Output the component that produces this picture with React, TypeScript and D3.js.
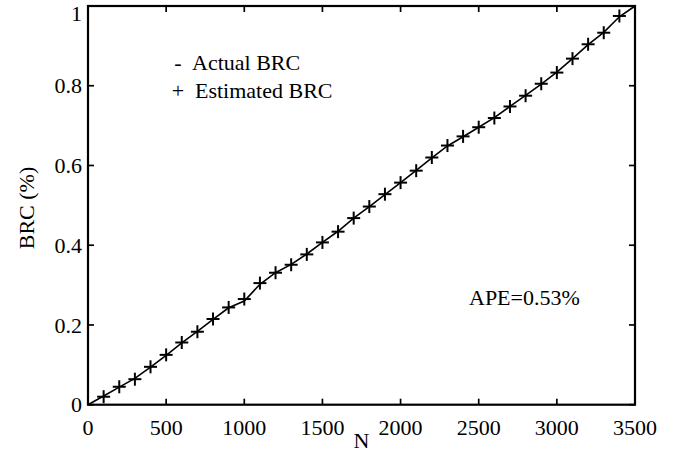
import React from "react";
import * as d3 from "d3";

const estN = [100, 200, 300, 400, 500, 600, 700, 800, 900, 1000, 1100, 1200, 1300, 1400, 1500, 1600, 1700, 1800, 1900, 2000, 2100, 2200, 2300, 2400, 2500, 2600, 2700, 2800, 2900, 3000, 3100, 3200, 3300, 3400];
const estBRC = [0.020, 0.045, 0.064, 0.095, 0.125, 0.156, 0.183, 0.215, 0.244, 0.265, 0.305, 0.331, 0.351, 0.377, 0.407, 0.434, 0.468, 0.497, 0.528, 0.557, 0.587, 0.620, 0.650, 0.673, 0.696, 0.719, 0.748, 0.775, 0.805, 0.833, 0.868, 0.904, 0.933, 0.975];

const actN = [0, 100, 200, 300, 400, 500, 600, 700, 800, 900, 1000, 1100, 1200, 1300, 1400, 1500, 1600, 1700, 1800, 1900, 2000, 2100, 2200, 2300, 2400, 2500, 2600, 2700, 2800, 2900, 3000, 3100, 3200, 3300, 3400, 3500];
const actBRC = [0, 0.022, 0.044, 0.066, 0.094, 0.124, 0.155, 0.184, 0.214, 0.243, 0.260, 0.302, 0.331, 0.352, 0.378, 0.407, 0.435, 0.468, 0.497, 0.527, 0.557, 0.588, 0.619, 0.649, 0.672, 0.696, 0.720, 0.748, 0.776, 0.804, 0.834, 0.868, 0.903, 0.934, 0.973, 1.0];

const xTicks = [0, 500, 1000, 1500, 2000, 2500, 3000, 3500];
const yTicks = [0, 0.2, 0.4, 0.6, 0.8, 1];
const yTickLabels = ["0", "0.2", "0.4", "0.6", "0.8", "1"];

const legendLabels = ["Actual BRC", "Estimated BRC"];
const legendSymbols = ["-", "+"];
const xLabel = "N";
const yLabel = "BRC (%)";
const annotation = "APE=0.53%";

export default function App() {
  const W = 673, H = 453;
  const L = 88, R = 635, T = 6, B = 404.7;
  const x = d3.scaleLinear().domain([0, 3500]).range([L, R]);
  const y = d3.scaleLinear().domain([0, 1]).range([B, T]);
  const line = d3.line<number>().x((_, i) => x(actN[i])).y((d) => y(d));
  const ts: React.CSSProperties = { fontFamily: "'Liberation Serif', 'Times New Roman', Times, serif", fontSize: "22px" };
  const tick = 6;
  const m = 6.5;

  return (
    <div style={{ position: "absolute", left: 0, top: 0 }}>
      <svg width={W} height={H} style={{ display: "block", background: "#fff" }}>
        <rect x={0} y={0} width={W} height={H} fill="#fff" />
        {xTicks.map((t) => (
          <g key={"xt" + t}>
            <line x1={x(t)} x2={x(t)} y1={B} y2={B - tick} stroke="#000" strokeWidth={1.7} />
            <line x1={x(t)} x2={x(t)} y1={T} y2={T + tick} stroke="#000" strokeWidth={1.7} />
            <text x={x(t)} y={435} textAnchor="middle" style={ts} fill="#000">{t}</text>
          </g>
        ))}
        {yTicks.map((t, i) => (
          <g key={"yt" + t}>
            <line x1={L} x2={L + tick} y1={y(t)} y2={y(t)} stroke="#000" strokeWidth={1.7} />
            <line x1={R} x2={R - tick} y1={y(t)} y2={y(t)} stroke="#000" strokeWidth={1.7} />
            <text x={82} y={Math.min(Math.max(y(t), 13), 409)} dy="0.35em" textAnchor="end" style={ts} fill="#000">{yTickLabels[i]}</text>
          </g>
        ))}
        <rect x={L} y={T} width={R - L} height={B - T} fill="none" stroke="#000" strokeWidth={2.2} />
        <path d={line(actBRC) || ""} fill="none" stroke="#000" strokeWidth={1.6} />
        {estBRC.map((v, i) => (
          <g key={"m" + i} stroke="#000" strokeWidth={2}>
            <line x1={x(estN[i]) - m} x2={x(estN[i]) + m} y1={y(v)} y2={y(v)} />
            <line x1={x(estN[i])} x2={x(estN[i])} y1={y(v) - m} y2={y(v) + m} />
          </g>
        ))}
        <text x={178} y={70} textAnchor="middle" style={ts} fill="#000">{legendSymbols[0]}</text>
        <text x={192} y={70} style={ts} fill="#000">{legendLabels[0]}</text>
        <text x={178} y={98} textAnchor="middle" style={ts} fill="#000">{legendSymbols[1]}</text>
        <text x={195} y={98} style={ts} fill="#000">{legendLabels[1]}</text>
        <text x={469} y={305} style={ts} fill="#000">{annotation}</text>
        <text x={(L + R) / 2} y={448} textAnchor="middle" style={ts} fill="#000">{xLabel}</text>
        <text transform={`translate(34, 208) rotate(-90)`} textAnchor="middle" style={ts} fill="#000">{yLabel}</text>
      </svg>
    </div>
  );
}
